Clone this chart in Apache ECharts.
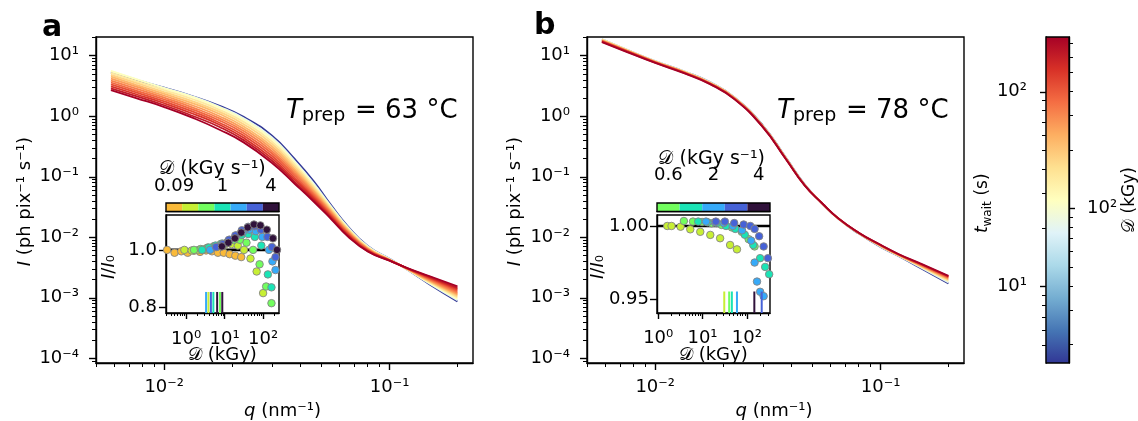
<!DOCTYPE html>
<html>
<head>
<meta charset="utf-8">
<script src="https://cdn.jsdelivr.net/npm/echarts@6.0.0/dist/echarts.min.js"></script>
<style>html,body{margin:0;padding:0;background:#fff;}#chart{width:1138px;height:421px;}</style>
</head>
<body>
<div id="chart"></div>
<script>
// ================= DATA =================
const qGrid = [0.0058, 0.0075, 0.01, 0.0135, 0.0175, 0.0225, 0.03, 0.038, 0.046, 0.055, 0.065, 0.08, 0.1, 0.12, 0.15, 0.2];

// panel a : waiting times (s) and intensity curves (one row per waiting time)
const tWaitA = [4.1, 20, 28, 36, 45, 55, 66, 78, 92, 108, 128, 155, 191];
const intensityA = [
  [5.3, 4.0, 2.97, 2.12, 1.5, 0.98, 0.48, 0.195, 0.085, 0.034, 0.0155, 0.0072, 0.0044, 0.0029, 0.00168, 0.00087],
  [5.5, 4.1, 2.95, 2.1, 1.45, 0.93, 0.45, 0.18, 0.078, 0.0325, 0.0150, 0.0071, 0.0044, 0.00292, 0.00172, 0.00091],
  [5.6, 4.1, 2.9, 2.05, 1.4, 0.88, 0.42, 0.17, 0.073, 0.031, 0.0145, 0.0069, 0.0043, 0.00294, 0.00177, 0.00096],
  [5.2, 3.82, 2.70, 1.89, 1.29, 0.807, 0.384, 0.157, 0.0686, 0.0297, 0.0140, 0.00678, 0.00428, 0.00296, 0.00182, 0.00101],
  [4.84, 3.55, 2.51, 1.75, 1.19, 0.74, 0.351, 0.144, 0.0644, 0.0284, 0.0136, 0.00666, 0.00426, 0.00297, 0.00186, 0.00106],
  [4.5, 3.3, 2.34, 1.62, 1.1, 0.678, 0.32, 0.133, 0.0605, 0.0272, 0.0132, 0.00655, 0.00424, 0.00299, 0.00191, 0.00111],
  [4.18, 3.08, 2.18, 1.49, 1.01, 0.622, 0.292, 0.123, 0.0568, 0.0260, 0.0127, 0.00643, 0.00422, 0.0030, 0.00196, 0.00116],
  [3.89, 2.86, 2.03, 1.38, 0.93, 0.57, 0.267, 0.113, 0.0534, 0.0249, 0.0123, 0.00632, 0.0042, 0.00302, 0.00201, 0.00121],
  [3.61, 2.66, 1.89, 1.27, 0.86, 0.523, 0.244, 0.104, 0.0501, 0.0238, 0.0120, 0.00621, 0.00418, 0.00304, 0.00206, 0.00127],
  [3.36, 2.48, 1.76, 1.18, 0.79, 0.48, 0.223, 0.0961, 0.0471, 0.0228, 0.0116, 0.0061, 0.00416, 0.00305, 0.00212, 0.00133],
  [3.12, 2.31, 1.64, 1.09, 0.73, 0.44, 0.203, 0.0886, 0.0442, 0.0218, 0.0112, 0.0060, 0.00414, 0.00307, 0.00217, 0.0014],
  [2.9, 2.15, 1.52, 1.0, 0.67, 0.403, 0.186, 0.0817, 0.0415, 0.0209, 0.0108, 0.0059, 0.00412, 0.00308, 0.00223, 0.00147],
  [2.7, 2.0, 1.42, 0.93, 0.605, 0.37, 0.17, 0.076, 0.039, 0.020, 0.0105, 0.0058, 0.0041, 0.0031, 0.00229, 0.00155]
];

// panel b
const tWaitB = [4.1, 20, 36, 55, 78, 108, 145, 191];
const intensityB = [
  [18.6, 12.5, 8.15, 5.48, 3.66, 2.05, 0.71, 0.207, 0.075, 0.0365, 0.0201, 0.0115, 0.0069, 0.0049, 0.0031, 0.00172],
  [18.8, 12.6, 8.2, 5.5, 3.66, 2.04, 0.70, 0.205, 0.074, 0.0365, 0.0202, 0.0116, 0.0070, 0.00495, 0.0032, 0.0018],
  [18.6, 12.5, 8.1, 5.45, 3.62, 2.02, 0.695, 0.204, 0.0738, 0.0365, 0.0202, 0.0116, 0.00712, 0.0050, 0.0033, 0.0019],
  [18.2, 12.3, 8.0, 5.38, 3.57, 2.0, 0.69, 0.202, 0.0735, 0.0365, 0.0203, 0.0117, 0.0072, 0.00507, 0.0034, 0.0020],
  [17.8, 12.1, 7.9, 5.3, 3.52, 1.98, 0.683, 0.2, 0.0731, 0.0365, 0.0203, 0.0118, 0.0073, 0.00513, 0.0035, 0.0021],
  [17.4, 11.9, 7.8, 5.23, 3.47, 1.95, 0.676, 0.199, 0.0727, 0.0365, 0.0204, 0.0118, 0.00738, 0.0052, 0.00358, 0.0022],
  [17.1, 11.7, 7.7, 5.16, 3.43, 1.92, 0.668, 0.197, 0.0723, 0.0365, 0.0204, 0.0119, 0.00745, 0.00525, 0.00365, 0.00227],
  [16.8, 11.5, 7.6, 5.1, 3.39, 1.9, 0.66, 0.195, 0.072, 0.0365, 0.0205, 0.0119, 0.0075, 0.0053, 0.0037, 0.0023]
];

// inset a : dose (kGy) and relative intensity, one row per dose rate
const rateLabelsA = ['0.09', '', '', '1', '', '', '4'];
const doseA = [
  [0.32, 0.5, 0.75, 1.1, 1.6, 2.3, 3.3, 4.7, 6.7, 9.5, 13.5, 19, 27],
  [0.9, 1.4, 2.1, 3.1, 4.6, 6.8, 10, 15, 22, 32, 47, 68, 100],
  [1.6, 2.4, 3.6, 5.3, 7.9, 11.7, 17, 25, 37, 55, 81, 120, 165],
  [2.6, 3.9, 5.8, 8.6, 12.7, 19, 28, 41, 61, 90, 133, 165],
  [4.2, 6.2, 9.2, 13.6, 20, 30, 44, 65, 96, 142, 175, 210],
  [6, 9, 13, 19, 28, 41, 60, 88, 130, 170, 210],
  [8.5, 12.5, 18.5, 27, 40, 58, 85, 125, 180, 230]
];
const relIA = [
  [1.0, 0.99, 0.995, 0.99, 0.997, 0.993, 0.998, 0.995, 0.99, 0.99, 0.985, 0.98, 0.975],
  [1.0, 0.998, 1.0, 1.003, 1.008, 1.013, 1.018, 1.02, 1.015, 1.0, 0.97, 0.925, 0.85],
  [1.0, 1.003, 1.008, 1.013, 1.02, 1.027, 1.034, 1.035, 1.025, 1.0, 0.95, 0.873, 0.815],
  [1.0, 1.008, 1.015, 1.022, 1.032, 1.043, 1.052, 1.055, 1.045, 1.015, 0.915, 0.87],
  [1.0, 1.01, 1.02, 1.035, 1.05, 1.062, 1.07, 1.065, 1.045, 1.0, 0.96, 0.93],
  [1.01, 1.02, 1.035, 1.05, 1.068, 1.08, 1.082, 1.07, 1.045, 1.01, 0.975],
  [1.012, 1.025, 1.04, 1.06, 1.078, 1.088, 1.085, 1.07, 1.04, 1.0]
];
const markDoseA = [3.3, 3.8, 4.4, 5.1, 6.4, 7.6, 8.7];

// inset b
const rateLabelsB = ['0.6', '', '2', '', '4'];
const doseB = [
  [1.6, 2.0, 3.2, 5.3, 8.9, 15, 25, 42, 60],
  [3.8, 6.1, 9.8, 16, 27, 46, 77, 110, 150],
  [8, 13, 21, 34, 55, 90, 140, 200, 260, 320],
  [12, 19, 30, 48, 78, 125, 150, 170, 200, 240],
  [20, 32, 52, 85, 120, 150, 190, 240, 300]
];
const relIB = [
  [1.0, 1.0, 0.9995, 0.9977, 0.996, 0.9939, 0.9916, 0.987, 0.984],
  [1.0034, 1.003, 1.0027, 1.0018, 1.0007, 0.999, 0.996, 0.991, 0.986],
  [1.003, 1.0025, 1.002, 1.0, 0.998, 0.994, 0.987, 0.978, 0.972, 0.967],
  [1.003, 1.0025, 1.002, 1.0, 0.997, 0.99, 0.975, 0.962, 0.955, 0.952],
  [1.003, 1.003, 1.002, 1.001, 1.0, 0.998, 0.993, 0.986, 0.978]
];
const markDoseB = [31, 40, 46, 60, 148, 217];

// tick labels
const qTicks = [0.01, 0.1];
const iTicks = [1e-4, 1e-3, 1e-2, 1e-1, 1, 10];
const doseTicks = [1, 10, 100];
const relTicksA = [0.8, 1.0];
const relTicksB = [0.95, 1.0];
const tWaitTicks = [10, 100];
const doseCbTicks = [100];

// ================= STYLE / HELPERS =================
const F = "'DejaVu Sans', sans-serif";
const FS = 18;
const RDYLBU_R = ['#313695','#4575b4','#74add1','#abd9e9','#e0f3f8','#ffffbf','#fee090','#fdae61','#f46d43','#d73027','#a50026'];
const TMIN = 4.06, TMAX = 191;
const turboA = ['#faba39','#c7ef34','#72fe5e','#1ae4b6','#36aaf9','#4662d7','#30123b'];
const turboB = ['#72fe5e','#1ae4b6','#36aaf9','#4662d7','#30123b'];
const ptColorsB = ['#c7ef34','#72fe5e','#1ae4b6','#36aaf9','#4662d7'];
const markColA = ['#36aaf9','#c7ef34','#4662d7','#1ae4b6','#30123b','#72fe5e','#30123b'];
const markColB = ['#c7ef34','#72fe5e','#1ae4b6','#36aaf9','#30123b','#4662d7'];

function hex2rgb(h){ return [parseInt(h.slice(1,3),16),parseInt(h.slice(3,5),16),parseInt(h.slice(5,7),16)]; }
function cmap(t){
  let f = (Math.log10(t)-Math.log10(TMIN))/(Math.log10(TMAX)-Math.log10(TMIN));
  f = Math.max(0, Math.min(1, f));
  const p = f*(RDYLBU_R.length-1), i = Math.min(Math.floor(p), RDYLBU_R.length-2), r = p-i;
  const a = hex2rgb(RDYLBU_R[i]), b = hex2rgb(RDYLBU_R[i+1]);
  return 'rgb(' + a.map((v,k)=>Math.round(v+(b[k]-v)*r)).join(',') + ')';
}
const SUP = {'-':'⁻','0':'⁰','1':'¹','2':'²','3':'³','4':'⁴','5':'⁵','6':'⁶','7':'⁷','8':'⁸','9':'⁹'};
function pow10Label(v){ const e = Math.round(Math.log10(v)); return '10' + String(e).split('').map(c=>SUP[c]).join(''); }
function minorTicks(min,max){
  const out=[];
  for(let e=Math.floor(Math.log10(min)); e<=Math.ceil(Math.log10(max)); e++){
    for(let k=2;k<=9;k++){ const v=+(k*Math.pow(10,e)).toPrecision(6); if(v>=min && v<=max) out.push(v); }
  }
  return out;
}
function logAxis(o){
  return {type:'log', logBase:10, gridIndex:o.grid, min:o.min, max:o.max, position:o.pos,
    axisLine:{show:true, onZero:false, lineStyle:{color:'#000', width:1.4}},
    axisTick:{show:true, inside:false, length:o.tl||7, lineStyle:{color:'#000', width:1.4}, customValues:o.majors},
    axisLabel:{show:o.labels!==false, customValues:o.majors, formatter:o.fmt||pow10Label, margin:o.margin||8, color:'#000', fontFamily:F, fontSize:o.fs||FS, hideOverlap:false},
    splitLine:{show:false}, minorTick:{show:false}, minorSplitLine:{show:false}};
}
function minorAxis(o){
  return {type:'log', logBase:10, gridIndex:o.grid, min:o.min, max:o.max, position:o.pos,
    axisLine:{show:false}, axisLabel:{show:false}, splitLine:{show:false},
    axisTick:{show:true, inside:false, length:o.tl||4, lineStyle:{color:'#000', width:1}, customValues:minorTicks(o.min,o.max)}};
}
function valAxis(o){
  return {type:'value', gridIndex:o.grid, min:o.min, max:o.max, position:o.pos,
    axisLine:{show:true, onZero:false, lineStyle:{color:'#000', width:1.4}},
    axisTick:{show:true, length:7, lineStyle:{color:'#000', width:1.4}, customValues:o.majors},
    axisLabel:{show:true, customValues:o.majors, formatter:o.fmt, margin:o.margin, color:'#000', fontFamily:F, fontSize:FS},
    splitLine:{show:false}};
}
function hiddenVal(grid){ return {type:'value', gridIndex:grid, min:0, max:1, show:false}; }
function catAxis(o){
  return {type:'category', gridIndex:o.grid, data:o.labels, position:'top', boundaryGap:true,
    axisLine:{show:true, lineStyle:{color:'#000', width:1.4}},
    axisTick:{show:true, alignWithLabel:true, length:7, lineStyle:{color:'#000', width:1.4}, interval:(i,v)=>v!==''},
    axisLabel:{interval:0, margin:o.margin, color:'#000', fontFamily:F, fontSize:FS},
    splitLine:{show:false}};
}

// ================= LAYOUT =================
const grids = [
  {left:96, top:37, width:377, height:326},   // 0 main a
  {left:587, top:37, width:377, height:326},  // 1 main b
  {left:166, top:215, width:113, height:98, backgroundColor:'#fff'}, // 2 inset a
  {left:657, top:215, width:113, height:98, backgroundColor:'#fff'}, // 3 inset b
  {left:166, top:203, width:113, height:8.5, z:3}, // 4 inset cbar a
  {left:657, top:203, width:113, height:8.5, z:3}, // 5 inset cbar b
  {left:1046, top:37, width:23, height:326}   // 6 colorbar
].map(g=>Object.assign({show:true, borderColor:'#000', borderWidth:1.4, backgroundColor:'transparent', containLabel:false}, g));
grids[6].show = false;

const Q = {min:0.00498, max:0.2345};
const IY = {min:8.36e-5, max:20.4};
const xAxes = [], yAxes = [];
const ax = (arr,a)=>{ arr.push(a); return arr.length-1; };

const xMainA = ax(xAxes, logAxis({grid:0, ...Q, majors:qTicks, pos:'bottom', margin:15}));
ax(xAxes, minorAxis({grid:0, ...Q, pos:'bottom'}));
const xMainB = ax(xAxes, logAxis({grid:1, ...Q, majors:qTicks, pos:'bottom', margin:15}));
ax(xAxes, minorAxis({grid:1, ...Q, pos:'bottom'}));
const xInA = ax(xAxes, logAxis({grid:2, min:0.3, max:259, majors:doseTicks, pos:'bottom', margin:17, tl:6}));
ax(xAxes, minorAxis({grid:2, min:0.3, max:259, pos:'bottom', tl:3}));
const xInB = ax(xAxes, logAxis({grid:3, min:0.94, max:334, majors:doseTicks, pos:'bottom', margin:16, tl:6}));
ax(xAxes, minorAxis({grid:3, min:0.94, max:334, pos:'bottom', tl:3}));
const xCbA = ax(xAxes, catAxis({grid:4, labels:rateLabelsA, margin:8}));
const xCbB = ax(xAxes, catAxis({grid:5, labels:rateLabelsB, margin:19}));
const xCb = ax(xAxes, hiddenVal(6));

const yMainA = ax(yAxes, logAxis({grid:0, ...IY, majors:iTicks, pos:'left', margin:17}));
ax(yAxes, minorAxis({grid:0, ...IY, pos:'left'}));
const yMainB = ax(yAxes, logAxis({grid:1, ...IY, majors:iTicks, pos:'left', margin:17}));
ax(yAxes, minorAxis({grid:1, ...IY, pos:'left'}));
const yInA = ax(yAxes, valAxis({grid:2, min:0.781, max:1.121, majors:relTicksA, fmt:v=>v.toFixed(1), margin:9, pos:'left'}));
const yInB = ax(yAxes, valAxis({grid:3, min:0.9405, max:1.0075, majors:relTicksB, fmt:v=>v.toFixed(2), margin:8, pos:'left'}));
const yCbA = ax(yAxes, hiddenVal(4));
const yCbB = ax(yAxes, hiddenVal(5));
const yCbT = ax(yAxes, logAxis({grid:6, min:TMIN, max:TMAX, majors:tWaitTicks, pos:'left', margin:19, tl:6}));
ax(yAxes, minorAxis({grid:6, min:TMIN, max:TMAX, pos:'left', tl:4}));
const DMIN = 16.1, DMAX = 758;
ax(yAxes, logAxis({grid:6, min:DMIN, max:DMAX, majors:doseCbTicks, pos:'right', margin:18, tl:6}));
ax(yAxes, minorAxis({grid:6, min:DMIN, max:DMAX, pos:'right', tl:4}));

// ================= SERIES =================
const series = [];
function curves(tw, rows, xi, yi){
  rows.forEach((row, k)=>{
    series.push({type:'line', xAxisIndex:xi, yAxisIndex:yi, data:qGrid.map((q,i)=>[q,row[i]]),
      showSymbol:false, symbol:'none', smooth:0.5, silent:true, z:2,
      lineStyle:{color:cmap(tw[k]), width:1.8}});
  });
}
curves(tWaitA, intensityA, xMainA, yMainA);
curves(tWaitB, intensityB, xMainB, yMainB);

function inset(doses, rels, cols, marks, markCols, xi, yi, xr, yr){
  series.push({type:'line', xAxisIndex:xi, yAxisIndex:yi, data:[[xr[0],1],[xr[1],1]], symbol:'none',
    lineStyle:{color:'#000', width:2.6}, silent:true, z:2});
  doses.forEach((d,k)=>{
    series.push({type:'scatter', xAxisIndex:xi, yAxisIndex:yi, data:d.map((v,i)=>[v, rels[k][i]]),
      symbol:'circle', symbolSize:7.5, clip:true, silent:true, z:3,
      itemStyle:{color:cols[k], borderColor:'#858585', borderWidth:0.9, opacity:1}});
  });
  marks.forEach((m,k)=>{
    series.push({type:'line', xAxisIndex:xi, yAxisIndex:yi, data:[[m,yr[0]],[m,yr[1]]], symbol:'none',
      lineStyle:{color:markCols[k], width:2}, silent:true, z:4});
  });
}
inset(doseA, relIA, turboA, markDoseA, markColA, xInA, yInA, [0.3,259], [0.781,0.854]);
inset(doseB, relIB, ptColorsB, markDoseB, markColB, xInB, yInB, [0.94,334], [0.9405,0.9552]);

series.push({type:'bar', xAxisIndex:xCbA, yAxisIndex:yCbA, barWidth:'100%', barCategoryGap:'0%', silent:true,
  data:turboA.map(c=>({value:1, itemStyle:{color:c}}))});
series.push({type:'bar', xAxisIndex:xCbB, yAxisIndex:yCbB, barWidth:'100%', barCategoryGap:'0%', silent:true,
  data:turboB.map(c=>({value:1, itemStyle:{color:c}}))});

series.push({type:'custom', xAxisIndex:xCb, yAxisIndex:yCbT, data:[[0.5, 20]], silent:true, z:1,
  renderItem:(p, api)=>{
    const a = api.coord([0, TMIN]), b = api.coord([1, TMAX]);
    return {type:'rect', shape:{x:a[0], y:b[1], width:b[0]-a[0], height:a[1]-b[1]},
      style:{fill:new echarts.graphic.LinearGradient(0,1,0,0, RDYLBU_R.map((c,i)=>({offset:i/(RDYLBU_R.length-1), color:c}))),
        stroke:'#000', lineWidth:1.4}};
  }});

// ================= TEXT =================
function txt(x, y, text, o={}){
  const fs = o.fs||FS;
  const st = {text, fill:'#000', fontFamily:F, fontSize:fs, fontStyle:o.it?'italic':'normal', fontWeight:o.bold?'bold':'normal',
    align:o.align||'center', verticalAlign:o.va||'middle', textAlign:o.align||'center', textVerticalAlign:o.va||'middle'};
  if(o.rich) st.rich = o.rich;
  return {type:'text', x, y, rotation:o.rot||0, z:100, silent:true, style:st};
}
const R = (fs)=>({i:{fontStyle:'italic', fontFamily:F, fontSize:fs, fill:'#000', color:'#000'}});
const graphics = [
  txt(42, 28, 'a', {fs:30, bold:true, align:'left'}),
  txt(534, 26, 'b', {fs:30, bold:true, align:'left'}),
  // T_prep labels
  txt(286, 111, 'T', {fs:26, it:true, align:'left'}),
  txt(302, 116.5, 'prep', {fs:19, align:'left'}),
  txt(355, 111, '= 63 °C', {fs:26, align:'left'}),
  txt(777, 111, 'T', {fs:26, it:true, align:'left'}),
  txt(793, 116.5, 'prep', {fs:19, align:'left'}),
  txt(846, 111, '= 78 °C', {fs:26, align:'left'}),
  // main axis titles
  txt(25, 201.7, '{i|I} (ph pix⁻¹ s⁻¹)', {fs:18, rot:Math.PI/2, rich:R(18)}),
  txt(515, 201.7, '{i|I} (ph pix⁻¹ s⁻¹)', {fs:18, rot:Math.PI/2, rich:R(18)}),
  txt(282.5, 411, '{i|q} (nm⁻¹)', {fs:18, rich:R(18)}),
  txt(774, 411, '{i|q} (nm⁻¹)', {fs:18, rich:R(18)}),
  // inset titles
  txt(212.5, 169, '𝒟 (kGy s⁻¹)', {fs:19}),
  txt(711.7, 159, '𝒟 (kGy s⁻¹)', {fs:19}),
  txt(222.5, 355, '𝒟 (kGy)', {fs:18}),
  txt(713.3, 355, '𝒟 (kGy)', {fs:18}),
  txt(109, 267, '{i|I}/{i|I}₀', {fs:18, rot:Math.PI/2, rich:R(18)}),
  txt(598, 267, '{i|I}/{i|I}₀', {fs:18, rot:Math.PI/2, rich:R(18)}),
  // colorbar titles
  {type:'group', x:988, y:233, rotation:Math.PI/2, children:[
    txt(0, -5.1, 't', {fs:17, it:true, align:'left'}),
    txt(6.5, -0.6, 'wait', {fs:12, align:'left'}),
    txt(32, -5.1, ' (s)', {fs:17, align:'left'})
  ]},
  txt(1130, 200, '𝒟 (kGy)', {fs:17, rot:Math.PI/2})
];

const chart = echarts.init(document.getElementById('chart'), null, {renderer:'canvas'});
chart.setOption({
  animation:false,
  backgroundColor:'#fff',
  grid:grids,
  xAxis:xAxes,
  yAxis:yAxes,
  series:series,
  graphic:graphics
});
</script>
</body>
</html>
